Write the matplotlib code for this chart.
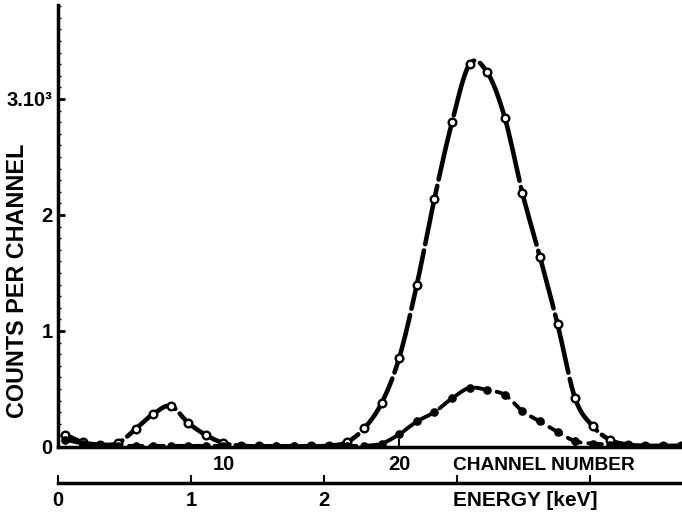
import numpy as np
import matplotlib
matplotlib.use("Agg")
import matplotlib.pyplot as plt

# ---- data (counts per channel, in thousands) ----
channels = list(range(1, 37))
open_series = [0.10, 0.04, 0.02, 0.034, 0.155, 0.284, 0.353, 0.207, 0.103, 0.034,
               0.01, 0.005, 0.0, 0.0, 0.005, 0.01, 0.04, 0.16, 0.38, 0.77,
               1.40, 2.14, 2.80, 3.30, 3.23, 2.84, 2.19, 1.64, 1.06, 0.42,
               0.18, 0.06, 0.02, 0.01, 0.01, 0.01]
filled_series = [0.06, 0.03, 0.015, 0.01, 0.01, 0.01, 0.01, 0.01, 0.01, 0.01,
                 0.01, 0.01, 0.01, 0.01, 0.01, 0.01, 0.01, 0.01, 0.03, 0.11,
                 0.22, 0.30, 0.42, 0.51, 0.49, 0.45, 0.31, 0.22, 0.13, 0.05,
                 0.03, 0.02, 0.01, 0.01, 0.01, 0.01]
y_ticks = [0, 1, 2, 3]
y_ticklabels = ["0", "1", "2", "3.10³"]
ch_ticks = [10, 20, 30]
ch_ticklabels = ["10", "20", ""]
e_ticks = [0, 1, 2, 3, 4]
e_ticklabels = ["0", "1", "2", "", ""]
E0_CH = 0.60        # channel at 0 keV
CH_PER_KEV = 7.56   # channels per keV

FONT = dict(family=["Liberation Sans", "DejaVu Sans"], weight="bold")


def smooth(x, y, n=16):
    x = np.asarray(x, float)
    y = np.asarray(y, float)
    yp = np.concatenate([[y[0]], y, [y[-1]]])
    xs, ys = [], []
    t = np.linspace(0, 1, n, endpoint=False)
    h00 = 2 * t**3 - 3 * t**2 + 1
    h10 = t**3 - 2 * t**2 + t
    h01 = -2 * t**3 + 3 * t**2
    h11 = t**3 - t**2
    for i in range(len(x) - 1):
        p0, p1, p2, p3 = yp[i], yp[i + 1], yp[i + 2], yp[i + 3]
        m1 = (p2 - p0) / 2
        m2 = (p3 - p1) / 2
        xs.append(x[i] + t * (x[i + 1] - x[i]))
        ys.append(h00 * p1 + h10 * m1 + h01 * p2 + h11 * m2)
    xs.append([x[-1]])
    ys.append([y[-1]])
    return np.concatenate(xs), np.concatenate(ys)


fig = plt.figure(figsize=(6.82, 5.13), dpi=100)
W, H = 682, 513
left, right, bottom_px, top_px = 58, 682, 447, 5
ax = fig.add_axes([left / W, 1 - bottom_px / H, (right - left) / W, (bottom_px - top_px) / H])

ax.set_xlim(0.59, 36.08)
ax.set_ylim(0, 3.81)

# curves
sx, sy = smooth(channels, open_series)
ax.plot(sx, sy, color="black", lw=3.3, dashes=(13, 1.4), dash_capstyle="round", zorder=3)
ax.plot(channels, open_series, "o", ms=5.5, mfc="white", mec="black", mew=1.7, zorder=4)

fx, fy = smooth(channels, filled_series)
ax.plot(fx, fy, color="black", lw=2.8, dashes=(3.5, 2.0), dash_capstyle="round", zorder=3)
ax.plot(channels, filled_series, "o", ms=5.2, mfc="black", mec="black", zorder=4)

# spines
for s in ["top", "right"]:
    ax.spines[s].set_visible(False)
ax.spines["left"].set_linewidth(2.5)
ax.spines["bottom"].set_linewidth(2.5)

# y axis
ax.set_yticks(y_ticks)
ax.set_yticklabels(y_ticklabels, fontsize=14.5, **FONT)
ax.set_yticks(np.arange(0, 3.81, 0.1), minor=True)
ax.tick_params(axis="y", which="major", direction="in", length=5, width=2, pad=4)
ax.tick_params(axis="y", which="minor", direction="in", length=2, width=1)
fig.text(18 / W, 1 - 281 / H, "COUNTS PER CHANNEL", rotation=90, ha="center", va="center",
         fontsize=16.8, **FONT)

# channel axis
ax.set_xticks(ch_ticks)
ax.set_xticklabels(ch_ticklabels, fontsize=14.5, **FONT)
ax.tick_params(axis="x", which="major", direction="in", length=6, width=1.5, pad=6)
fig.text(453 / W, 1 - 466 / H, "CHANNEL NUMBER", ha="left", va="center",
         fontsize=13.8, **FONT)

# energy axis
def ch2e(c):
    return (np.asarray(c) - E0_CH) / CH_PER_KEV


def e2ch(e):
    return np.asarray(e) * CH_PER_KEV + E0_CH


sec = ax.secondary_xaxis(-36 / (bottom_px - top_px), functions=(ch2e, e2ch))
sec.set_xticks(e_ticks)
sec.set_xticklabels(e_ticklabels, fontsize=14.5, **FONT)
sec.tick_params(direction="in", length=6, width=1.5, pad=6)
sec.spines["bottom"].set_linewidth(2.5)
fig.text(453 / W, 1 - 500 / H, "ENERGY [keV]", ha="left", va="center",
         fontsize=15, **FONT)

fig.savefig("out.png", dpi=100)
